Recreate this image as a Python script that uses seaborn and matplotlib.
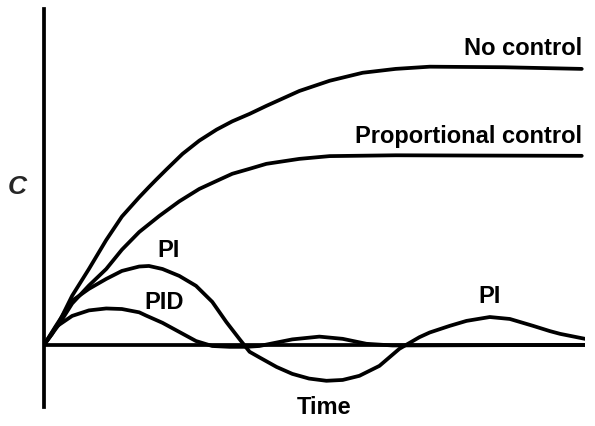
import matplotlib
matplotlib.use("Agg")
import matplotlib.pyplot as plt
import seaborn as sns

# curves (time, response)
t_none = [0, 0.28, 0.52, 0.83, 1.15, 1.44, 1.76, 1.94, 2.07, 2.26, 2.56, 2.87, 3.19,
          3.48, 3.8, 4.11, 4.72, 5.28, 5.89, 6.5, 7.13, 8.5, 9.94]
c_none = [0, 0.83, 1.78, 2.75, 3.8, 4.65, 5.35, 5.72, 5.98, 6.35, 6.92, 7.4, 7.8,
          8.1, 8.37, 8.66, 9.2, 9.57, 9.86, 10.0, 10.08, 10.06, 10.0]

t_prop = [0, 0.28, 0.52, 0.83, 1.15, 1.44, 1.76, 2.13, 2.5, 2.87, 3.19, 3.48, 3.8,
          4.11, 4.72, 5.28, 6.5, 8.0, 9.94]
c_prop = [0, 0.75, 1.5, 2.15, 2.75, 3.45, 4.09, 4.67, 5.2, 5.65, 5.94, 6.2, 6.38,
          6.56, 6.74, 6.84, 6.87, 6.86, 6.85]

t_pi = [0, 0.22, 0.52, 0.83, 1.15, 1.44, 1.76, 1.94, 2.19, 2.5, 2.81, 3.11, 3.37,
        3.61, 3.8, 3.98, 4.3, 4.59, 4.9, 5.22, 5.52, 5.83, 6.2, 6.57, 6.94, 7.13,
        7.5, 7.81, 8.24, 8.61, 9.04, 9.35, 9.54, 10.0]
c_pi = [0, 0.69, 1.6, 2.03, 2.39, 2.68, 2.84, 2.86, 2.75, 2.5, 2.14, 1.56, 0.83,
        0.22, -0.25, -0.45, -0.8, -1.05, -1.22, -1.3, -1.27, -1.12, -0.76, -0.14, 0.28, 0.45,
        0.69, 0.87, 1.01, 0.94, 0.69, 0.5, 0.4, 0.22]

t_pid = [0, 0.15, 0.22, 0.52, 0.83, 1.15, 1.44, 1.76, 1.89, 2.19, 2.5, 2.81, 3.11,
         3.43, 3.74, 3.98, 4.59, 5.09, 5.52, 5.96, 6.44, 10.0]
c_pid = [0, 0.4, 0.65, 1.05, 1.25, 1.32, 1.3, 1.18, 1.06, 0.8, 0.47, 0.14, -0.04,
         -0.07, -0.07, -0.04, 0.2, 0.3, 0.22, 0.04, -0.02, 0]

sns.set_style("white")
plt.rcParams["font.family"] = ["Liberation Sans", "DejaVu Sans"]

fig = plt.figure(figsize=(5.95, 4.27), dpi=100)
ax = fig.add_axes([44 / 595, 1 - 408 / 427, 541 / 595, 398 / 427])

lw = 2.7
for tt, cc in [(t_none, c_none), (t_prop, c_prop), (t_pi, c_pi), (t_pid, c_pid)]:
    sns.lineplot(x=tt, y=cc, ax=ax, color="black", linewidth=lw, sort=False,
                 solid_capstyle="round", solid_joinstyle="round")

ax.axhline(0, color="black", linewidth=lw)
ax.set_xlim(0, 10.0)
ax.set_ylim(-2.25, 12.17)
for s in ["top", "right", "bottom"]:
    ax.spines[s].set_visible(False)
ax.spines["left"].set_linewidth(lw)
ax.spines["left"].set_color("black")
ax.set_xticks([])
ax.set_yticks([])

txt = dict(fontsize=17, fontweight="bold", color="black")
ax.text(9.94, 10.76, "No control", ha="right", va="center", **txt)
ax.text(9.94, 7.57, "Proportional control", ha="right", va="center", **txt)
ax.text(2.31, 3.44, "PI", ha="center", va="center", **txt)
ax.text(2.22, 1.59, "PID", ha="center", va="center", **txt)
ax.text(8.24, 1.78, "PI", ha="center", va="center", **txt)

fig.text(17 / 595, 1 - 187 / 427, "C", ha="center", va="center", fontsize=19,
         fontweight="bold", style="italic")
fig.text(324 / 595, 1 - 408 / 427, "Time", ha="center", va="center", **txt)

fig.savefig("out.png", dpi=100)
